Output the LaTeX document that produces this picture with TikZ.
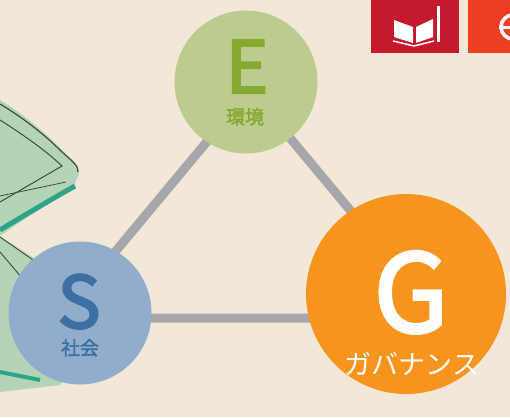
\documentclass[tikz,border=0pt]{standalone}
\usepackage{fontspec}
\newfontfamily\jpfont{Noto Sans CJK JP}
\newfontfamily\jpheavy{Noto Sans CJK JP}[FakeBold=2]
\newfontfamily\lettfont{Noto Sans CJK JP}[FakeBold=3]
\definecolor{paper}{HTML}{F3E8D8}
\definecolor{edgegray}{HTML}{A7A7AB}
\definecolor{envfill}{HTML}{BCCC8E}
\definecolor{envtext}{HTML}{86AA31}
\definecolor{socfill}{HTML}{92ADCB}
\definecolor{soctext}{HTML}{3C70A0}
\definecolor{govfill}{HTML}{F7941E}
\definecolor{traygreen}{HTML}{B3D5B6}
\definecolor{trayline}{HTML}{3E4B42}
\definecolor{trayteal}{HTML}{2FA38A}
\definecolor{sdgred}{HTML}{C5192D}
\definecolor{sdgorange}{HTML}{EE3E24}
\tikzset{
  edge/.style={edgegray,line width=9pt},
  pillar/.style={circle,inner sep=0pt},
  letter/.style={anchor=base,inner sep=0pt,font=\lettfont\fontsize{#1}{#1}\selectfont},
  caption/.style={anchor=base,inner sep=0pt,font=\jpfont\fontsize{#1}{#1}\selectfont},
  heavycaption/.style={anchor=base,inner sep=0pt,font=\jpheavy\fontsize{#1}{#1}\selectfont}
}
\begin{document}
\begin{tikzpicture}[x=1pt,y=-1pt]
	
	\useasboundingbox (0,0) rectangle (510,417);
	\clip (0,0) rectangle (510,417);
	\fill[paper] (0,0) rectangle (510,417);
	
	% stacked trays on the left edge
	\fill[traygreen] (0,236) -- (40,262) -- (100,320) -- (60,385) -- (0,392) -- cycle;
	\draw[trayline,line width=0.9pt] (0,237) -- (36,262);
	\draw[trayline,line width=0.9pt] (0,252) -- (28,285);
	\draw[trayteal,line width=4pt] (0,372) -- (40,380);
	\fill[traygreen] (0,100) .. controls (30,118) and (50,138) .. (62,150) .. controls (72,160) and (80,166) .. (79,174) -- (72,190) .. controls (45,205) and (20,222) .. (0,236) -- cycle;
	\draw[trayline,line width=1.2pt] (0,104) .. controls (30,122) and (50,140) .. (62,152) .. controls (72,161) and (79,166) .. (78,172);
	\draw[trayline,line width=1pt] (0,120) .. controls (25,136) and (45,150) .. (62,166) -- (0,202);
	\draw[trayteal,line width=5pt] (75,186) .. controls (50,200) and (25,215) .. (0,230);
	\draw[trayline,line width=0.8pt] (0,196) -- (66,182);
	
	% goal icons, top right
	\fill[sdgred] (371,0) rectangle (459,53);
	\fill[white] (394,20) -- (413,27) -- (413,43) -- (394,37) -- cycle;
	\fill[white] (416,27) -- (433,19) -- (433,37) -- (416,43) -- cycle;
	\fill[white] (437,6) rectangle (440,42);
	\draw[white,line width=1.5pt] (393,41) -- (414,46) -- (434,41);
	\fill[sdgorange] (468,0) rectangle (520,53);
	\draw[white,line width=3.5pt] (513,27) circle [radius=12];
	\draw[white,line width=3pt] (499,28) -- (527,28);
	
	% triangle behind the circles
	\coordinate (apex) at (250,90);
	\coordinate (left) at (60,318);
	\coordinate (right) at (440,318);
	\draw[edge] (apex) -- (left) -- (right) -- cycle;
	
	\node[pillar,fill=envfill,minimum size=143pt] (env) at (246,82) {};
	\node[pillar,fill=socfill,minimum size=143pt] (soc) at (80,313) {};
	\node[pillar,fill=govfill,minimum size=200pt] (gov) at (406,294) {};
	
	\node[letter=72,text=envtext] (envL) at (247,93) {E};
	\node[heavycaption=19,text=envtext] (envC) at (245,124) {環境};
	\node[letter=72,text=soctext] (socL) at (79,328) {S};
	\node[heavycaption=19,text=soctext] (socC) at (80,355) {社会};
	\node[letter=108,text=white] (govL) at (411,332) {G};
	\node[caption=27,text=white] (govC) at (412,374) {ガバナンス};
	
\end{tikzpicture}
\end{document}
